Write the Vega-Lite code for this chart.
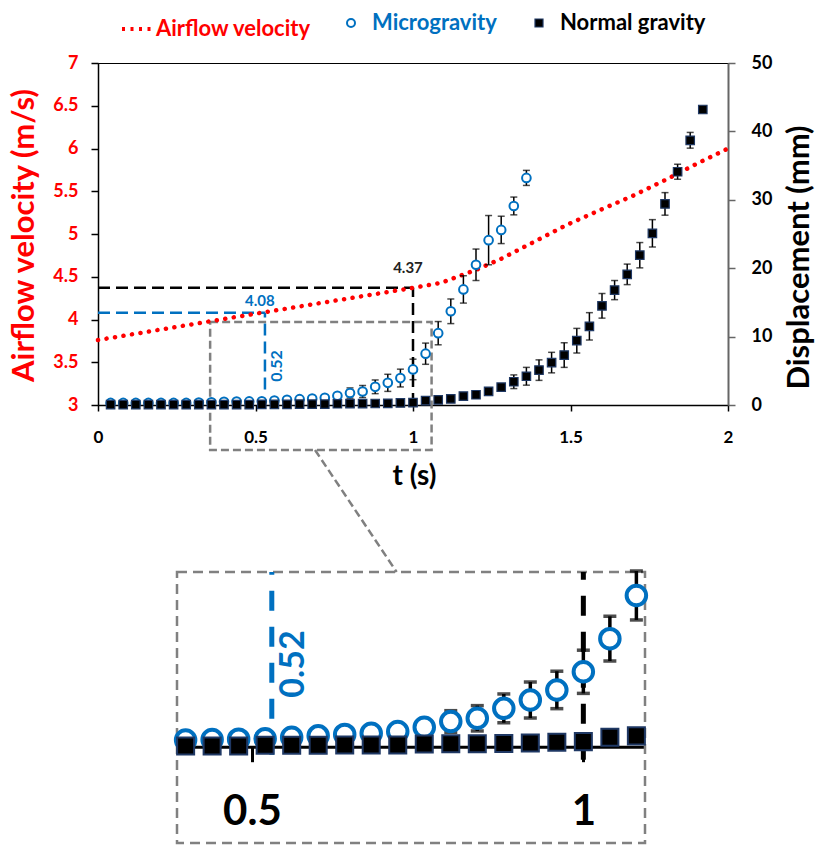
{
  "$schema": "https://vega.github.io/schema/vega-lite/v6.json",
  "autosize": {"type": "none"},
  "width": 630,
  "height": 342,
  "padding": {"left": 98, "top": 63, "right": 87, "bottom": 441},
  "background": "white",
  "config": {"font": "Lato", "view": {"stroke": "#000000", "strokeWidth": 1}, "axis": {"grid": false}},
  "datasets": {
    "micro": [
      {"t": 0.04, "d": 0.3, "e": 0.1}, {"t": 0.08, "d": 0.3, "e": 0.1}, {"t": 0.12, "d": 0.3, "e": 0.1},
      {"t": 0.16, "d": 0.3, "e": 0.1}, {"t": 0.2, "d": 0.3, "e": 0.1}, {"t": 0.24, "d": 0.3, "e": 0.1},
      {"t": 0.28, "d": 0.3, "e": 0.1}, {"t": 0.32, "d": 0.35, "e": 0.1}, {"t": 0.36, "d": 0.4, "e": 0.1},
      {"t": 0.4, "d": 0.46, "e": 0.1}, {"t": 0.44, "d": 0.5, "e": 0.1}, {"t": 0.48, "d": 0.52, "e": 0.1},
      {"t": 0.52, "d": 0.55, "e": 0.1}, {"t": 0.56, "d": 0.65, "e": 0.1}, {"t": 0.6, "d": 0.75, "e": 0.1},
      {"t": 0.64, "d": 0.85, "e": 0.15}, {"t": 0.68, "d": 0.93, "e": 0.15}, {"t": 0.72, "d": 1.05, "e": 0.2},
      {"t": 0.76, "d": 1.35, "e": 0.3}, {"t": 0.8, "d": 1.75, "e": 0.75}, {"t": 0.84, "d": 1.97, "e": 0.88},
      {"t": 0.88, "d": 2.66, "e": 1.0}, {"t": 0.92, "d": 3.24, "e": 1.25}, {"t": 0.96, "d": 3.94, "e": 1.3},
      {"t": 1.0, "d": 5.2, "e": 1.5}, {"t": 1.04, "d": 7.5, "e": 1.55}, {"t": 1.08, "d": 10.5, "e": 1.7},
      {"t": 1.12, "d": 13.7, "e": 1.8}, {"t": 1.16, "d": 16.9, "e": 2.0}, {"t": 1.2, "d": 20.5, "e": 2.3},
      {"t": 1.24, "d": 24.1, "e": 3.6}, {"t": 1.28, "d": 25.6, "e": 2.0}, {"t": 1.32, "d": 29.1, "e": 1.3},
      {"t": 1.36, "d": 33.2, "e": 1.1}
    ],
    "normal": [
      {"t": 0.04, "d": 0.05, "e": 0.2}, {"t": 0.08, "d": 0.05, "e": 0.2}, {"t": 0.12, "d": 0.05, "e": 0.2},
      {"t": 0.16, "d": 0.05, "e": 0.2}, {"t": 0.2, "d": 0.05, "e": 0.2}, {"t": 0.24, "d": 0.05, "e": 0.2},
      {"t": 0.28, "d": 0.05, "e": 0.2}, {"t": 0.32, "d": 0.05, "e": 0.2}, {"t": 0.36, "d": 0.05, "e": 0.2},
      {"t": 0.4, "d": 0.05, "e": 0.2}, {"t": 0.44, "d": 0.05, "e": 0.2}, {"t": 0.48, "d": 0.05, "e": 0.2},
      {"t": 0.52, "d": 0.1, "e": 0.2}, {"t": 0.56, "d": 0.1, "e": 0.2}, {"t": 0.6, "d": 0.1, "e": 0.2},
      {"t": 0.64, "d": 0.12, "e": 0.2}, {"t": 0.68, "d": 0.12, "e": 0.2}, {"t": 0.72, "d": 0.12, "e": 0.2},
      {"t": 0.76, "d": 0.18, "e": 0.2}, {"t": 0.8, "d": 0.2, "e": 0.2}, {"t": 0.84, "d": 0.2, "e": 0.2},
      {"t": 0.88, "d": 0.22, "e": 0.2}, {"t": 0.92, "d": 0.25, "e": 0.2}, {"t": 0.96, "d": 0.3, "e": 0.2},
      {"t": 1.0, "d": 0.35, "e": 0.2}, {"t": 1.04, "d": 0.65, "e": 0.2}, {"t": 1.08, "d": 0.75, "e": 0.2},
      {"t": 1.12, "d": 0.9, "e": 0.2}, {"t": 1.16, "d": 1.3, "e": 0.2}, {"t": 1.2, "d": 1.5, "e": 0.2},
      {"t": 1.24, "d": 2.0, "e": 0.2}, {"t": 1.28, "d": 2.6, "e": 0.5}, {"t": 1.32, "d": 3.4, "e": 1.0},
      {"t": 1.36, "d": 4.2, "e": 1.3}, {"t": 1.4, "d": 5.1, "e": 1.5}, {"t": 1.44, "d": 6.2, "e": 1.5},
      {"t": 1.48, "d": 7.3, "e": 1.8}, {"t": 1.52, "d": 9.4, "e": 1.8}, {"t": 1.56, "d": 11.5, "e": 2.0},
      {"t": 1.6, "d": 14.5, "e": 1.8}, {"t": 1.64, "d": 16.8, "e": 1.4}, {"t": 1.68, "d": 19.1, "e": 1.5},
      {"t": 1.72, "d": 21.9, "e": 1.85}, {"t": 1.76, "d": 25.1, "e": 2.0}, {"t": 1.8, "d": 29.4, "e": 1.65},
      {"t": 1.84, "d": 34.1, "e": 1.1}, {"t": 1.88, "d": 38.7, "e": 1.15}, {"t": 1.92, "d": 43.2, "e": 0.3}
    ],
    "airflow": [
      {"t": 0, "v": 3.76}, {"t": 0.52, "v": 4.08}, {"t": 1.0, "v": 4.37}, {"t": 1.09, "v": 4.43},
      {"t": 1.2, "v": 4.58}, {"t": 1.28, "v": 4.71}, {"t": 1.38, "v": 4.9}, {"t": 1.49, "v": 5.11},
      {"t": 1.6, "v": 5.29}, {"t": 1.7, "v": 5.45}, {"t": 1.8, "v": 5.63}, {"t": 1.9, "v": 5.82},
      {"t": 2.0, "v": 6.0}
    ]
  },
  "layer": [
    {
      "layer": [
        {
          "data": {"values": [{"t1": 0.356, "t2": 1.059, "v1": 2.474, "v2": 3.97}]},
          "mark": {"type": "rect", "fillOpacity": 0, "stroke": "#808080", "strokeWidth": 2.5, "strokeDash": [8, 4]},
          "encoding": {
            "x": {"field": "t1", "type": "quantitative", "title": "t (s)", "scale": {"domain": [0, 2], "nice": false, "zero": false},
              "axis": {"orient": "bottom", "values": [0, 0.5, 1, 1.5, 2], "format": "~g", "tickSize": 6, "tickWidth": 1.5, "tickColor": "#000",
                "domainColor": "#000", "domainWidth": 1.5, "labelFont": "Lato", "labelFontSize": 17, "labelFontWeight": "bold", "labelColor": "#000",
                "labelPadding": 18, "labelFlush": false, "labelOverlap": false, "title": "t (s)", "titleFont": "Lato", "titleFontSize": 28,
                "titleFontWeight": "bold", "titleColor": "#000", "titleBaseline": "alphabetic", "titleY": 79, "titleX": 316}},
            "x2": {"field": "t2"},
            "y": {"field": "v1", "type": "quantitative", "title": "Airflow velocity (m/s)", "scale": {"domain": [3, 7], "nice": false, "zero": false},
              "axis": {"orient": "left", "values": [3, 3.5, 4, 4.5, 5, 5.5, 6, 6.5, 7], "format": "~g", "tickSize": 7, "tickWidth": 1.5, "tickColor": "#000",
                "domainColor": "#000", "domainWidth": 1.5, "labelFont": "Lato", "labelFontSize": 18, "labelFontWeight": "bold", "labelColor": "#ff0000",
                "labelPadding": 13, "labelFlush": false, "labelOverlap": false, "title": "Airflow velocity (m/s)", "titleFont": "Lato", "titleFontSize": 31,
                "titleFontWeight": "bold", "titleColor": "#ff0000", "titleAngle": 270, "titleBaseline": "alphabetic", "titleAlign": "center", "titleX": -65, "titleY": 172}},
            "y2": {"field": "v2"}
          }
        },
        {
          "data": {"values": [{"t1": 0.689, "v1": 2.474, "t2": 0.948, "v2": 1.047}]},
          "mark": {"type": "rule", "stroke": "#808080", "strokeWidth": 2.5, "strokeDash": [8, 4]},
          "encoding": {
            "x": {"field": "t1", "type": "quantitative", "title": "t (s)", "scale": {"domain": [0, 2], "nice": false, "zero": false}},
            "x2": {"field": "t2"},
            "y": {"field": "v1", "type": "quantitative", "title": "Airflow velocity (m/s)", "scale": {"domain": [3, 7], "nice": false, "zero": false}},
            "y2": {"field": "v2"}
          }
        },
        {
          "data": {"values": [
            {"t1": 0, "t2": 1, "v1": 4.37, "v2": 4.37, "ref": "normal"},
            {"t1": 1, "t2": 1, "v1": 3, "v2": 4.37, "ref": "normal"},
            {"t1": 0, "t2": 0.53, "v1": 4.08, "v2": 4.08, "ref": "micro"},
            {"t1": 0.53, "t2": 0.53, "v1": 3.18, "v2": 4.08, "ref": "micro"}
          ]},
          "mark": {"type": "rule", "strokeWidth": 2.5, "strokeDash": [12, 6]},
          "encoding": {
            "x": {"field": "t1", "type": "quantitative", "title": "t (s)", "scale": {"domain": [0, 2], "nice": false, "zero": false}},
            "x2": {"field": "t2"},
            "y": {"field": "v1", "type": "quantitative", "title": "Airflow velocity (m/s)", "scale": {"domain": [3, 7], "nice": false, "zero": false}},
            "y2": {"field": "v2"},
            "stroke": {"condition": {"test": "datum.ref === 'micro'", "value": "#0070c0"}, "value": "#000000"}
          }
        },
        {
          "data": {"name": "airflow"},
          "mark": {"type": "line", "strokeWidth": 4.5, "strokeCap": "round", "strokeDash": [0.1, 8.5]},
          "encoding": {
            "x": {"field": "t", "type": "quantitative", "title": "t (s)", "scale": {"domain": [0, 2], "nice": false, "zero": false}},
            "y": {"field": "v", "type": "quantitative", "title": "Airflow velocity (m/s)", "scale": {"domain": [3, 7], "nice": false, "zero": false}},
            "color": {"datum": "Airflow velocity", "scale": {"range": ["#ff0000"]},
              "legend": {"orient": "none", "legendX": 22, "legendY": -51, "title": null, "padding": 0, "labelColor": "#ff0000", "labelFont": "Lato",
                "labelFontSize": 22, "labelFontWeight": "bold", "labelOffset": 2, "symbolType": "stroke", "symbolSize": 900, "symbolStrokeWidth": 4,
                "symbolDash": [3, 5.5], "symbolStrokeColor": "#ff0000", "symbolOpacity": 1}}
          }
        },
        {
          "data": {"values": [{"t": 0.984, "v": 4.6, "label": "4.37"}]},
          "mark": {"type": "text", "font": "Lato", "fontSize": 15, "fontWeight": "bold", "color": "#222222", "align": "center", "baseline": "middle"},
          "encoding": {
            "x": {"field": "t", "type": "quantitative", "title": "t (s)", "scale": {"domain": [0, 2], "nice": false, "zero": false}},
            "y": {"field": "v", "type": "quantitative", "title": "Airflow velocity (m/s)", "scale": {"domain": [3, 7], "nice": false, "zero": false}},
            "text": {"field": "label"}
          }
        },
        {
          "data": {"values": [{"t": 0.514, "v": 4.216, "label": "4.08"}]},
          "mark": {"type": "text", "font": "Lato", "fontSize": 15, "fontWeight": "bold", "color": "#0070c0", "align": "center", "baseline": "middle"},
          "encoding": {
            "x": {"field": "t", "type": "quantitative", "title": "t (s)", "scale": {"domain": [0, 2], "nice": false, "zero": false}},
            "y": {"field": "v", "type": "quantitative", "title": "Airflow velocity (m/s)", "scale": {"domain": [3, 7], "nice": false, "zero": false}},
            "text": {"field": "label"}
          }
        },
        {
          "data": {"values": [{"t": 0.568, "v": 3.456, "label": "0.52"}]},
          "mark": {"type": "text", "font": "Lato", "fontSize": 16, "fontWeight": "bold", "color": "#0070c0", "align": "center", "baseline": "middle", "angle": 270},
          "encoding": {
            "x": {"field": "t", "type": "quantitative", "title": "t (s)", "scale": {"domain": [0, 2], "nice": false, "zero": false}},
            "y": {"field": "v", "type": "quantitative", "title": "Airflow velocity (m/s)", "scale": {"domain": [3, 7], "nice": false, "zero": false}},
            "text": {"field": "label"}
          }
        }
      ]
    },
    {
      "layer": [
        {
          "data": {"name": "micro"},
          "mark": {"type": "errorbar", "ticks": {"size": 7}, "thickness": 1.5, "color": "#000000"},
          "encoding": {
            "x": {"field": "t", "type": "quantitative", "scale": {"domain": [0, 2], "nice": false, "zero": false}, "axis": null},
            "y": {"field": "d", "type": "quantitative", "title": "Displacement (mm)", "scale": {"domain": [0, 50], "nice": false, "zero": false},
              "axis": {"orient": "right", "values": [0, 10, 20, 30, 40, 50], "format": "~g", "tickSize": 7, "tickWidth": 1.5, "tickColor": "#666666",
                "domainColor": "#666666", "domainWidth": 2, "labelFont": "Lato", "labelFontSize": 18, "labelFontWeight": "bold", "labelColor": "#000",
                "labelPadding": 16, "labelFlush": false, "labelOverlap": false, "title": "Displacement (mm)", "titleFont": "Lato", "titleFontSize": 31,
                "titleFontWeight": "bold", "titleColor": "#000", "titleAngle": 270, "titleBaseline": "alphabetic", "titleAlign": "center", "titleX": 80, "titleY": 194}},
            "yError": {"field": "e"}
          }
        },
        {
          "data": {"name": "micro"},
          "mark": {"type": "point", "shape": "circle", "filled": false, "fill": "#ffffff", "strokeWidth": 2, "size": 75, "opacity": 1},
          "encoding": {
            "x": {"field": "t", "type": "quantitative", "scale": {"domain": [0, 2], "nice": false, "zero": false}, "axis": null},
            "y": {"field": "d", "type": "quantitative", "title": "Displacement (mm)", "scale": {"domain": [0, 50], "nice": false, "zero": false}},
            "stroke": {"datum": "Microgravity", "scale": {"range": ["#0070c0"]},
              "legend": {"orient": "none", "legendX": 242, "legendY": -51, "title": null, "padding": 0, "labelColor": "#0070c0", "labelFont": "Lato",
                "labelFontSize": 22, "labelFontWeight": "bold", "labelOffset": 10, "symbolType": "circle", "symbolSize": 64, "symbolStrokeWidth": 2,
                "symbolFillColor": "#ffffff", "symbolOpacity": 1}}
          }
        },
        {
          "data": {"name": "normal"},
          "mark": {"type": "errorbar", "ticks": {"size": 7}, "thickness": 1.5, "color": "#000000"},
          "encoding": {
            "x": {"field": "t", "type": "quantitative", "scale": {"domain": [0, 2], "nice": false, "zero": false}, "axis": null},
            "y": {"field": "d", "type": "quantitative", "title": "Displacement (mm)", "scale": {"domain": [0, 50], "nice": false, "zero": false}},
            "yError": {"field": "e"}
          }
        },
        {
          "data": {"name": "normal"},
          "mark": {"type": "square", "stroke": "#1f3864", "strokeWidth": 1.2, "size": 72, "opacity": 1},
          "encoding": {
            "x": {"field": "t", "type": "quantitative", "scale": {"domain": [0, 2], "nice": false, "zero": false}, "axis": null},
            "y": {"field": "d", "type": "quantitative", "title": "Displacement (mm)", "scale": {"domain": [0, 50], "nice": false, "zero": false}},
            "fill": {"datum": "Normal gravity", "scale": {"range": ["#000000"]},
              "legend": {"orient": "none", "legendX": 430, "legendY": -51, "title": null, "padding": 0, "labelColor": "#000000", "labelFont": "Lato",
                "labelFontSize": 22, "labelFontWeight": "bold", "labelOffset": 10, "symbolType": "square", "symbolSize": 64, "symbolStrokeWidth": 1.2,
                "symbolStrokeColor": "#1f3864", "symbolOpacity": 1}}
          }
        }
      ]
    },
    {
      "layer": [
        {
          "data": {"values": [{"t1": 0.387, "t2": 1.093, "d1": -6.69, "d2": 12.13}]},
          "mark": {"type": "rect", "fillOpacity": 0, "stroke": "#808080", "strokeWidth": 2.5, "strokeDash": [10, 6]},
          "encoding": {
            "x": {"field": "t1", "type": "quantitative", "title": null, "scale": {"domain": [0.387, 1.093], "range": [79, 547], "nice": false, "zero": false},
              "axis": {"orient": "bottom", "offset": 341.7, "values": [0.5, 1], "format": "~g", "tickSize": 15, "tickWidth": 3, "tickColor": "#000",
                "domainColor": "#000", "domainWidth": 3, "labelFont": "Lato", "labelFontSize": 42, "labelFontWeight": "bold", "labelColor": "#000",
                "labelPadding": 30, "labelFlush": false, "labelOverlap": false, "title": null}},
            "x2": {"field": "t2"},
            "y": {"field": "d1", "type": "quantitative", "title": null, "scale": {"domain": [-6.69, 12.13], "range": [780, 509], "nice": false, "zero": false}, "axis": null},
            "y2": {"field": "d2"}
          }
        },
        {
          "data": {"values": [
            {"t1": 0.53, "d1": -0.57, "d2": 12.13, "ref": "micro"},
            {"t1": 1.0, "d1": -0.9, "d2": 12.13, "ref": "normal"}
          ]},
          "mark": {"type": "rule", "strokeWidth": 5, "strokeDash": [20, 16]},
          "encoding": {
            "x": {"field": "t1", "type": "quantitative", "title": null, "scale": {"domain": [0.387, 1.093], "range": [79, 547], "nice": false, "zero": false}},
            "y": {"field": "d1", "type": "quantitative", "title": null, "scale": {"domain": [-6.69, 12.13], "range": [780, 509], "nice": false, "zero": false}, "axis": null},
            "y2": {"field": "d2"},
            "stroke": {"condition": {"test": "datum.ref === 'micro'", "value": "#0070c0"}, "value": "#000000"}
          }
        },
        {
          "data": {"name": "micro"},
          "transform": [{"filter": "datum.t >= 0.38 && datum.t <= 1.09"}],
          "mark": {"type": "errorbar", "ticks": {"size": 13}, "thickness": 3.5, "color": "#000000"},
          "encoding": {
            "x": {"field": "t", "type": "quantitative", "title": null, "scale": {"domain": [0.387, 1.093], "range": [79, 547], "nice": false, "zero": false}},
            "y": {"field": "d", "type": "quantitative", "title": null, "scale": {"domain": [-6.69, 12.13], "range": [780, 509], "nice": false, "zero": false}, "axis": null},
            "yError": {"field": "e"}
          }
        },
        {
          "data": {"name": "micro"},
          "transform": [{"filter": "datum.t >= 0.38 && datum.t <= 1.09"}],
          "mark": {"type": "point", "shape": "circle", "filled": true, "fill": "#ffffff", "stroke": "#0070c0", "strokeWidth": 4, "size": 380, "opacity": 1},
          "encoding": {
            "x": {"field": "t", "type": "quantitative", "title": null, "scale": {"domain": [0.387, 1.093], "range": [79, 547], "nice": false, "zero": false}},
            "y": {"field": "d", "type": "quantitative", "title": null, "scale": {"domain": [-6.69, 12.13], "range": [780, 509], "nice": false, "zero": false}, "axis": null}
          }
        },
        {
          "data": {"name": "normal"},
          "transform": [{"filter": "datum.t >= 0.38 && datum.t <= 1.09"}],
          "mark": {"type": "square", "fill": "#000000", "stroke": "#1f3864", "strokeWidth": 2, "size": 290, "opacity": 1},
          "encoding": {
            "x": {"field": "t", "type": "quantitative", "title": null, "scale": {"domain": [0.387, 1.093], "range": [79, 547], "nice": false, "zero": false}},
            "y": {"field": "d", "type": "quantitative", "title": null, "scale": {"domain": [-6.69, 12.13], "range": [780, 509], "nice": false, "zero": false}, "axis": null}
          }
        },
        {
          "data": {"values": [{"t": 0.564, "d": 5.74, "label": "0.52"}]},
          "mark": {"type": "text", "font": "Lato", "fontSize": 34, "fontWeight": "bold", "color": "#0070c0", "align": "center", "baseline": "middle", "angle": 270},
          "encoding": {
            "x": {"field": "t", "type": "quantitative", "title": null, "scale": {"domain": [0.387, 1.093], "range": [79, 547], "nice": false, "zero": false}},
            "y": {"field": "d", "type": "quantitative", "title": null, "scale": {"domain": [-6.69, 12.13], "range": [780, 509], "nice": false, "zero": false}, "axis": null},
            "text": {"field": "label"}
          }
        }
      ]
    }
  ],
  "resolve": {"scale": {"x": "independent", "y": "independent"}}
}
